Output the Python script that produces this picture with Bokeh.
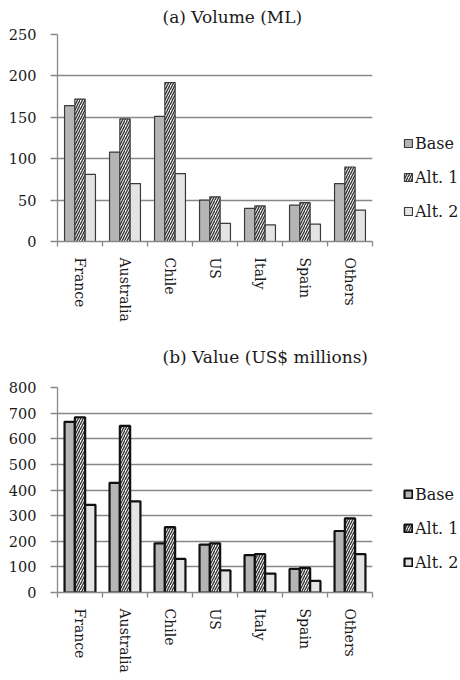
import numpy as np
from bokeh.plotting import figure
from bokeh.models import Range1d, FixedTicker, Legend, LegendItem, ColumnDataSource
from bokeh.transform import dodge
from bokeh.layouts import column
from bokeh.embed import file_html
from bokeh.resources import INLINE

# Exporting-country categories and scenario names
countries = ["France", "Australia", "Chile", "US", "Italy", "Spain", "Others"]
series_names = ["Base", "Alt. 1", "Alt. 2"]

# (a) Volume, ML
volume_base = [164, 108, 151, 50, 40, 44, 70]
volume_alt1 = [172, 148, 192, 54, 43, 47, 90]
volume_alt2 = [81, 70, 82, 22, 20, 21, 38]
volume_ticks = [0, 50, 100, 150, 200, 250]

# (b) Value, US$ millions
value_base = [666, 428, 192, 187, 146, 92, 240]
value_alt1 = [684, 650, 255, 192, 150, 96, 289]
value_alt2 = [342, 356, 131, 86, 74, 45, 150]
value_ticks = [0, 100, 200, 300, 400, 500, 600, 700, 800]

FONT = "DejaVu Serif"
GRID = "#888888"
TEXT = "#1a1a1a"
BAR_W = 0.229


def make_panel(title, base, alt1, alt2, yticks, top, frame_h, bottom,
               edge_color, edge_w, title_standoff):
    n = len(countries)
    centers = list(np.arange(n) + 0.5)
    bounds = list(np.arange(n + 1).astype(float))
    p = figure(width=460, height=top + frame_h + bottom,
               frame_width=315, frame_height=frame_h,
               x_range=Range1d(0, n), y_range=Range1d(yticks[0], yticks[-1]),
               min_border_left=57, min_border_right=88,
               min_border_top=top, min_border_bottom=bottom,
               output_backend="svg", toolbar_location=None)
    p.outline_line_color = None
    p.background_fill_color = "white"

    src = ColumnDataSource(dict(x=centers, base=base, alt1=alt1, alt2=alt2))
    r_base = p.vbar(x=dodge("x", -BAR_W), top="base", width=BAR_W, source=src,
                    fill_color="#b5b5b5", line_color=edge_color, line_width=edge_w)
    r_alt1 = p.vbar(x="x", top="alt1", width=BAR_W, source=src,
                    fill_color="#f4f4f4", line_color=edge_color, line_width=edge_w,
                    hatch_pattern="/", hatch_color="#303030", hatch_scale=5,
                    hatch_weight=1.3)
    r_alt2 = p.vbar(x=dodge("x", BAR_W), top="alt2", width=BAR_W, source=src,
                    fill_color="#e4e4e4", line_color=edge_color, line_width=edge_w)

    # x axis: labels at category centres, ticks at category boundaries
    xa = p.xaxis[0]
    xa.ticker = FixedTicker(ticks=centers, minor_ticks=bounds)
    xa.major_label_overrides = {c: name for c, name in zip(centers, countries)}
    xa.major_label_orientation = "vertical"
    xa.major_tick_out = 0
    xa.major_tick_in = 0
    xa.minor_tick_out = 5
    xa.minor_tick_in = 0
    xa.minor_tick_line_color = GRID
    xa.minor_tick_line_width = 1.3
    xa.axis_line_color = GRID
    xa.axis_line_width = 1.3
    xa.major_label_standoff = 11
    xa.major_label_text_font = FONT
    xa.major_label_text_font_size = "14px"
    xa.major_label_text_color = TEXT

    ya = p.yaxis[0]
    ya.ticker = FixedTicker(ticks=yticks)
    ya.major_tick_out = 7
    ya.major_tick_in = 0
    ya.minor_tick_line_color = None
    ya.major_tick_line_color = GRID
    ya.major_tick_line_width = 1.3
    ya.axis_line_color = GRID
    ya.axis_line_width = 1.3
    ya.major_label_standoff = 14
    ya.major_label_text_font = FONT
    ya.major_label_text_font_size = "14.5px"
    ya.major_label_text_color = TEXT

    p.xgrid.grid_line_color = None
    p.ygrid.ticker = FixedTicker(ticks=yticks)
    p.ygrid.grid_line_color = GRID
    p.ygrid.grid_line_width = 1.5

    p.title.text = title
    p.title.align = "left"
    p.title.vertical_align = "top"
    p.title.offset = 105
    p.title.standoff = title_standoff
    p.title.text_font = FONT
    p.title.text_font_size = "17px"
    p.title.text_font_style = "normal"
    p.title.text_color = TEXT

    items = [LegendItem(label=nm, renderers=[r])
             for nm, r in zip(series_names, (r_base, r_alt1, r_alt2))]
    leg = Legend(items=items, location=(31, 19), orientation="vertical",
                 padding=0, margin=0, border_line_color=None,
                 background_fill_alpha=0, glyph_width=10, glyph_height=10,
                 label_standoff=2, spacing=12, label_height=22,
                 label_text_font=FONT, label_text_font_size="16px",
                 label_text_color=TEXT)
    p.add_layout(leg, "right")
    return p


p_volume = make_panel("(a) Volume (ML)", volume_base, volume_alt1, volume_alt2,
                      volume_ticks, 33, 207, 84, "#3a3a3a", 1.2, 12)
p_value = make_panel("(b) Value (US$ millions)", value_base, value_alt1, value_alt2,
                     value_ticks, 62, 205, 89, "#111111", 2.2, 38)

layout = column(p_volume, p_value, spacing=0)
open("out.html", "w").write(file_html(layout, INLINE))
